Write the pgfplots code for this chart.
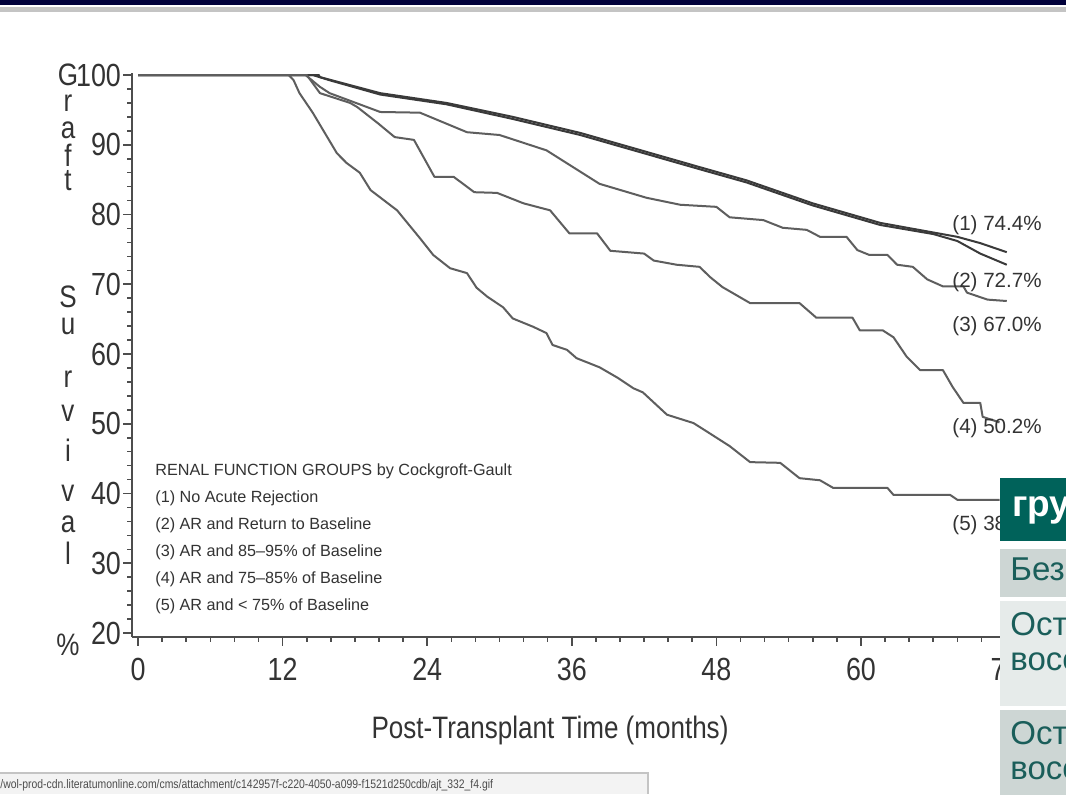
\documentclass[border=0pt]{standalone}
\usepackage{fontspec}
\setmainfont{Liberation Sans}[FakeStretch=0.84]
\newfontfamily\tabfont{Liberation Sans}
\usepackage{pgfplots}
\pgfplotsset{compat=1.18}

\definecolor{ink}{HTML}{333333}
\definecolor{axisgray}{HTML}{4D4D4D}
\definecolor{darkcurve}{HTML}{3A3A3A}
\definecolor{midcurve}{HTML}{5E5E5E}
\definecolor{navy}{HTML}{00003A}
\definecolor{topgray}{HTML}{C4C4C4}
\definecolor{teal}{HTML}{00625A}
\definecolor{tealtext}{HTML}{1A5E5A}
\definecolor{rowdark}{HTML}{CDD6D4}
\definecolor{rowlight}{HTML}{E6EBEA}
\definecolor{barbg}{HTML}{F3F3F3}

\begin{document}
\begin{tikzpicture}
\useasboundingbox (0,0) rectangle (533pt,-397pt);
\fill[white] (0,0) rectangle (533pt,-397pt);
% slide frame at the top
\fill[navy] (0,0) rectangle (533pt,-2.6pt);
\fill[topgray] (0,-3.6pt) rectangle (533pt,-6.2pt);

\begin{axis}[
    at={(66pt,-318.25pt)}, anchor=south west,
    scale only axis, width=442.8pt, height=281.8pt,
    xmin=-0.5, xmax=73, ymin=19.5, ymax=100.3,
    axis lines=left,
    axis line style={-, draw=axisgray, line width=1pt},
    xtick={0,12,...,72}, ytick={20,30,...,100},
    minor x tick num=5, minor y tick num=4,
    tick align=outside,
    major tick length=4.5pt, minor tick length=2.5pt,
    every tick/.style={draw=axisgray, line width=0.8pt},
    /pgf/number format/assume math mode=true,
    ticklabel style={font=\fontsize{16}{18}\selectfont, text=ink},
    xticklabel style={yshift=-3pt},
    yticklabel style={xshift=2.5pt},
    clip=false,
    every axis plot/.append style={line width=1pt, line join=round},
]
% (1) No Acute Rejection
\addplot[darkcurve] coordinates {
 (0,100) (15,100) (15.1,99.7) (20.1,97.4) (25.6,96.0) (31.1,94.0) (36.7,91.7)
 (46.6,86.8) (50.5,84.9) (56.0,81.6) (61.6,78.8) (68.0,76.8) (69.9,75.9) (72.1,74.6)
};
% (2) AR and Return to Baseline
\addplot[darkcurve] coordinates {
 (0,100) (14.5,100) (16,99.2) (20.1,97.2) (25.6,95.8) (31.1,93.7) (36.7,91.4)
 (46.6,86.5) (50.5,84.6) (56.0,81.3) (61.6,78.5) (66.0,77.2) (68.0,76.2) (69.9,74.4) (72.1,72.8)
};
% (3) AR and 85-95% of Baseline
\addplot[midcurve] coordinates {
 (0,100) (13.9,100) (15.1,98.3) (15.9,97.4) (20.1,94.7) (23.4,94.6) (27.3,91.8)
 (30.0,91.4) (33.9,89.2) (38.3,84.4) (42.2,82.4) (45.0,81.4) (48.0,81.1) (49.1,79.6)
 (51.9,79.2) (53.5,78.1) (55.5,77.8) (56.6,76.8) (58.8,76.8) (59.7,74.9) (60.7,74.2)
 (62.2,74.2) (63.0,72.8) (64.3,72.5) (65.5,70.7) (66.8,69.7) (68.5,69.7) (68.8,68.8)
 (70.5,67.8) (72.1,67.6)
};
% (4) AR and 75-85% of Baseline
\addplot[midcurve] coordinates {
 (0,100) (14.0,100) (14.3,99.3) (15.1,97.4) (17.6,96.0) (18.2,95.4) (19.9,93.1)
 (21.3,91.1) (22.9,90.7) (24.6,85.4) (26.2,85.4) (27.9,83.2) (29.8,83.1) (32.0,81.6)
 (34.2,80.6) (35.8,77.3) (38.1,77.3) (39.2,74.8) (42.0,74.4) (42.8,73.4) (44.7,72.8)
 (46.6,72.5) (47.5,71.0) (48.5,69.6) (50.8,67.3) (54.9,67.3) (56.3,65.2) (59.3,65.2)
 (59.9,63.4) (61.8,63.4) (62.7,62.4) (63.8,59.6) (64.9,57.7) (66.8,57.7) (67.6,55.3)
 (68.5,53.0) (69.9,53.0) (70.1,51.0) (71.5,50.2)
};
% (5) AR and < 75% of Baseline
\addplot[midcurve] coordinates {
 (0,100) (12.5,100) (12.9,99.3) (13.4,97.4) (14.5,94.6) (16.5,88.8) (17.3,87.4)
 (18.4,86.0) (19.3,83.5) (21.5,80.6) (23.4,76.6) (24.5,74.2) (25.9,72.3) (27.3,71.6)
 (28.1,69.5) (29.0,68.2) (30.3,66.7) (31.1,65.1) (32.8,63.9) (33.9,63.0) (34.4,61.3)
 (35.6,60.6) (36.4,59.4) (38.3,58.1) (39.8,56.6) (41.1,55.1) (41.9,54.5) (43.9,51.3)
 (46.1,50.1) (47.2,48.9) (49.1,46.8) (50.8,44.5) (53.3,44.4) (54.9,42.2) (56.6,41.9)
 (57.7,40.8) (62.2,40.8) (62.7,39.8) (67.4,39.8) (68.0,39.1) (71.5,39.1)
};
\end{axis}

% y axis title, one letter per line
\foreach \ch/\py in {G/75, r/103, a/130, f/155, t/181, S/297, u/326, r/379, v/413, i/450, v/493, a/524, l/553, \%/645}
  \node[font=\fontsize{15.5}{17}\selectfont, text=ink, inner sep=0pt] at (34pt,{-0.5*\py*1pt}) {\ch};

% x axis title
\node[font=\fontsize{15.5}{18}\selectfont, text=ink] at (275pt,-365pt) {Post-Transplant Time (months)};

% legend block inside the plot
\begin{scope}[every node/.style={anchor=west, inner sep=0pt, font=\tabfont\fontsize{8.1}{10}\selectfont, text=ink}]
\node at (77.5pt,-235.5pt) {RENAL FUNCTION GROUPS by Cockgroft-Gault};
\node at (77.5pt,-249pt) {(1) No Acute Rejection};
\node at (77.5pt,-262.5pt) {(2) AR and Return to Baseline};
\node at (77.5pt,-276pt) {(3) AR and 85\textendash95\% of Baseline};
\node at (77.5pt,-289.5pt) {(4) AR and 75\textendash85\% of Baseline};
\node at (77.5pt,-303pt) {(5) AR and < 75\% of Baseline};
\end{scope}

% end-of-curve labels
\begin{scope}[every node/.style={anchor=west, inner sep=0pt, font=\tabfont\fontsize{10.3}{12}\selectfont, text=ink}]
\node at (476pt,-112.5pt) {(1) 74.4\%};
\node at (476pt,-141pt) {(2) 72.7\%};
\node at (476pt,-163pt) {(3) 67.0\%};
\node at (476pt,-214pt) {(4) 50.2\%};
\node at (476pt,-262.5pt) {(5) 38.8\%};
\end{scope}

% the slide's table, cut off at the right edge
\begin{scope}
\clip (0,0) rectangle (533pt,-397pt);
\fill[teal] (500pt,-239pt) rectangle (540pt,-270.5pt);
\fill[rowdark] (500pt,-274.5pt) rectangle (540pt,-298.5pt);
\fill[rowlight] (500pt,-300.5pt) rectangle (540pt,-353pt);
\fill[rowdark] (500pt,-355pt) rectangle (540pt,-400pt);
\node[anchor=west, inner sep=0pt, text=white, font=\tabfont\bfseries\fontsize{18.5}{20}\selectfont] at (506pt,-255pt) {группа};
\begin{scope}[every node/.style={anchor=west, inner sep=0pt, text=tealtext, font=\tabfont\fontsize{16.5}{19}\selectfont}]
\node at (505pt,-286.5pt) {Без отторжения};
\node at (505pt,-313.5pt) {Острое отторжение и};
\node at (505pt,-331pt) {восстановление};
\node at (505pt,-368pt) {Острое отторжение и};
\node at (505pt,-385.5pt) {восстановление};
\end{scope}
\end{scope}

% browser status bar at the bottom
\fill[barbg] (0,-386.5pt) rectangle (324pt,-397pt);
\draw[topgray, line width=0.6pt] (0,-386.5pt) -- (324pt,-386.5pt) -- (324pt,-397pt);
\node[anchor=west, inner sep=0pt, text=axisgray, font=\fontsize{6.2}{7}\selectfont] at (0pt,-392.5pt)
  {/wol-prod-cdn.literatumonline.com/cms/attachment/c142957f-c220-4050-a099-f1521d250cdb/ajt\_332\_f4.gif};
\end{tikzpicture}
\end{document}
